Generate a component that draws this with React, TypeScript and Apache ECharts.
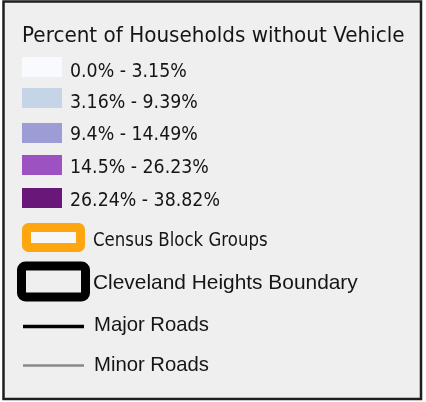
import React, { useEffect, useRef } from "react";
import * as echarts from "echarts";

const legendTitle = "Percent of Households without Vehicle";
const rangeLabels = ["0.0% - 3.15%", "3.16% - 9.39%", "9.4% - 14.49%", "14.5% - 26.23%", "26.24% - 38.82%"];
const rangeColors = ["#f8fafd", "#c6d4e8", "#9d9cd5", "#9c52c0", "#6a177a"];
const outlineLabels = ["Census Block Groups", "Cleveland Heights Boundary"];
const roadLabels = ["Major Roads", "Minor Roads"];

const TAHOMA = "Tahoma, 'DejaVu Sans', sans-serif";
const ARIAL = "Arial, 'Liberation Sans', sans-serif";
const INK = "#151515";

export default function App() {
  const ref = useRef<HTMLDivElement>(null);
  useEffect(() => {
    if (!ref.current) return;
    const chart = echarts.init(ref.current, null, { renderer: "svg" });
    const swatchTops = [57, 88, 123, 155, 188];
    const labelCenters = [70, 101, 133, 166, 199];
    const elements: any[] = [];
    elements.push({
      type: "rect",
      shape: { x: 0, y: 0, width: 426, height: 402 },
      style: { fill: "#ffffff" },
    });
    elements.push({
      type: "rect",
      shape: { x: 3.5, y: 1.5, width: 417.5, height: 397.5 },
      style: { fill: "#efefef", stroke: "#1e1e1e", lineWidth: 2.5 },
    });
    elements.push({
      type: "text",
      x: 22,
      y: 35,
      scaleY: 1.06,
      style: { text: legendTitle, font: `20px ${TAHOMA}`, fill: INK, verticalAlign: "middle", align: "left" },
    });
    rangeLabels.forEach((lab, i) => {
      elements.push({
        type: "rect",
        shape: { x: 22, y: swatchTops[i], width: 40, height: 20 },
        style: { fill: rangeColors[i] },
      });
      elements.push({
        type: "text",
        x: 70,
        y: labelCenters[i],
        scaleY: 1.08,
        style: { text: lab, font: `17.4px ${TAHOMA}`, fill: INK, verticalAlign: "middle", align: "left" },
      });
    });
    // Census block groups (orange outline)
    elements.push({
      type: "rect",
      shape: { x: 26.5, y: 227.5, width: 54, height: 20, r: 2 },
      style: { fill: "#f7f7f7", stroke: "#fda60f", lineWidth: 9 },
    });
    elements.push({
      type: "text",
      x: 93,
      y: 239.5,
      scaleY: 1.12,
      style: { text: outlineLabels[0], font: `16.6px ${TAHOMA}`, fill: INK, verticalAlign: "middle", align: "left" },
    });
    // Boundary (black outline)
    elements.push({
      type: "rect",
      shape: { x: 21.5, y: 266, width: 64, height: 31, r: 4 },
      style: { fill: "#efefef", stroke: "#000000", lineWidth: 9 },
    });
    elements.push({
      type: "text",
      x: 93,
      y: 281,
      style: { text: outlineLabels[1], font: `20.9px ${ARIAL}`, fill: INK, verticalAlign: "middle", align: "left" },
    });
    // Roads
    const roadY = [326.5, 365.5];
    const roadStyles = [
      { stroke: "#000000", lineWidth: 3.5 },
      { stroke: "#8a8a8a", lineWidth: 2.5 },
    ];
    roadLabels.forEach((lab, i) => {
      elements.push({
        type: "line",
        shape: { x1: 23, y1: roadY[i], x2: 84, y2: roadY[i] },
        style: roadStyles[i],
      });
      elements.push({
        type: "text",
        x: 94,
        y: [324, 364][i],
        style: { text: lab, font: `20.3px ${ARIAL}`, fill: INK, verticalAlign: "middle", align: "left" },
      });
    });
    chart.setOption({ animation: false, graphic: { elements } });
    return () => chart.dispose();
  }, []);
  return <div ref={ref} style={{ position: "fixed", left: 0, top: 0, width: 426, height: 402 }} />;
}
